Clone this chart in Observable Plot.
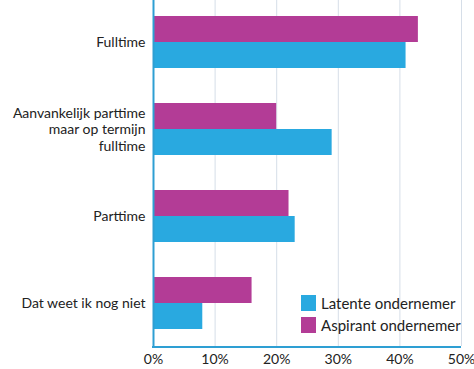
<!DOCTYPE html>
<html><head><meta charset="utf-8">
<script src="https://cdn.jsdelivr.net/npm/d3@7"></script>
<script src="https://cdn.jsdelivr.net/npm/@observablehq/plot@0.6"></script>
<style>
body{margin:0;background:#fff;font-family:Lato,sans-serif;}
#wrap{position:relative;width:474px;height:369px;}
.legend{position:absolute;left:301px;top:292px;font-size:15px;color:#222;line-height:22px;}
.legend div{display:flex;align-items:center;}
.legend span.sw{display:inline-block;width:15px;height:16px;margin-right:5px;}
</style></head><body>
<div id="wrap"></div>
<script>
const categories = ["Fulltime", "Aanvankelijk parttime\nmaar op termijn\nfulltime", "Parttime", "Dat weet ik nog niet"];
const series = ["Aspirant ondernemer", "Latente ondernemer"];
const latente = [0.41, 0.29, 0.23, 0.08];
const aspirant = [0.43, 0.20, 0.22, 0.16];
const colors = ["#b33c96", "#29a9e0"];
const xTicks = [0, 0.1, 0.2, 0.3, 0.4, 0.5];

const data = [];
categories.forEach((c, i) => {
  data.push({cat: c, s: series[0], v: aspirant[i]});
  data.push({cat: c, s: series[1], v: latente[i]});
});

const plot = Plot.plot({
  width: 474, height: 369,
  marginLeft: 153, marginRight: 13, marginTop: -4, marginBottom: 22,
  style: {fontFamily: "Lato, sans-serif", fontSize: "14px", color: "#222"},
  x: {domain: [0, 0.5], ticks: xTicks, tickFormat: d => Math.round(d * 100) + "%", tickSize: 0, tickPadding: 8, label: null},
  fy: {domain: categories, padding: 0, label: null, tickSize: 0, tickPadding: 7},
  y: {domain: series, paddingInner: 0, paddingOuter: 0.65, axis: null},
  color: {domain: series, range: colors},
  facet: {data, y: "cat", marginLeft: 153},
  marks: [
    Plot.gridX(xTicks, {stroke: "#d6dee8", strokeOpacity: 1, strokeWidth: 1}),
    Plot.barX(data, {x: "v", y: "s", fill: "s"}),
    Plot.ruleX([0], {stroke: "#2e9fd3", strokeWidth: 2}),
    Plot.axisFy({anchor: "left", tickSize: 0, tickPadding: 8, fontSize: 14, lineHeight: 1.18, label: null})
  ]
});
document.getElementById("wrap").appendChild(plot);

// bottom axis line along the x scale range
const sx = plot.scale("x");
d3.select(plot).append("line")
  .attr("x1", sx.range[0] - 1).attr("x2", sx.range[1])
  .attr("y1", 369 - 22).attr("y2", 369 - 22)
  .attr("stroke", "#2e9fd3").attr("stroke-width", 2);

const lg = document.createElement("div");
lg.className = "legend";
[1, 0].forEach(i => {
  const row = document.createElement("div");
  row.innerHTML = `<span class="sw" style="background:${colors[i]}"></span>${series[i]}`;
  lg.appendChild(row);
});
document.getElementById("wrap").appendChild(lg);
</script>
</body></html>
